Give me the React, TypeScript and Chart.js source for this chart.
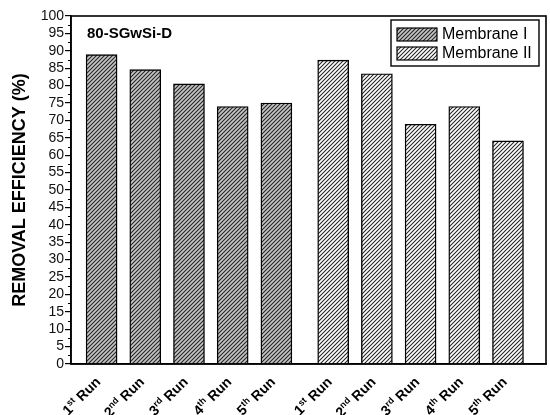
import { useEffect, useRef } from "react";
import { Chart, registerables } from "chart.js";

Chart.register(...registerables);

document.body.style.margin = "0";

const runs = ["1st", "2nd", "3rd", "4th", "5th"];
const membraneIPos = [1, 2, 3, 4, 5];
const membraneIIPos = [6.3, 7.3, 8.3, 9.3, 10.3];
const membraneI = [88.9, 84.6, 80.5, 74.0, 75.0];
const membraneII = [87.3, 83.4, 68.9, 74.0, 64.1];
const seriesNames = ["Membrane I", "Membrane II"];
const sampleName = "80-SGwSi-D";
const yTitle = "REMOVAL EFFICIENCY (%)";

const FONT = "'Liberation Sans', Arial, sans-serif";

function hatch(bg: string) {
  const s = 4;
  const c = document.createElement("canvas");
  c.width = s;
  c.height = s;
  const ctx = c.getContext("2d")!;
  ctx.fillStyle = bg;
  ctx.fillRect(0, 0, s, s);
  ctx.strokeStyle = "#222";
  ctx.lineWidth = 1.05;
  ctx.beginPath();
  ctx.moveTo(0, s);
  ctx.lineTo(s, 0);
  ctx.moveTo(-1, 1);
  ctx.lineTo(1, -1);
  ctx.moveTo(s - 1, s + 1);
  ctx.lineTo(s + 1, s - 1);
  ctx.stroke();
  return ctx.createPattern(c, "repeat")!;
}

const decorations = {
  id: "decorations",
  afterDraw(chart: any) {
    const { ctx, chartArea } = chart;
    const y = chart.scales.y;
    ctx.save();
    ctx.strokeStyle = "#000";

    // minor ticks
    ctx.lineWidth = 1.2;
    ctx.beginPath();
    for (let v = 2.5; v < 100; v += 5) {
      const py = Math.round(y.getPixelForValue(v)) + 0.5;
      ctx.moveTo(chartArea.left - 3, py);
      ctx.lineTo(chartArea.left, py);
    }
    ctx.stroke();

    // frame
    ctx.lineWidth = 1.6;
    ctx.strokeRect(
      chartArea.left,
      chartArea.top,
      chartArea.right - chartArea.left,
      chartArea.bottom - chartArea.top
    );

    // sample name
    ctx.fillStyle = "#000";
    ctx.font = `bold 15px ${FONT}`;
    ctx.textBaseline = "alphabetic";
    ctx.textAlign = "left";
    ctx.fillText(sampleName, chartArea.left + 16, chartArea.top + 22);

    // legend
    const bx = chartArea.right - 155;
    const by = chartArea.top + 4;
    ctx.lineWidth = 1.4;
    ctx.strokeRect(bx, by, 148, 46);
    chart.data.datasets.forEach((ds: any, i: number) => {
      const sy = by + 8 + i * 19;
      ctx.fillStyle = ds.backgroundColor;
      ctx.fillRect(bx + 6, sy, 40, 13);
      ctx.lineWidth = 1.2;
      ctx.strokeRect(bx + 6, sy, 40, 13);
      ctx.fillStyle = "#000";
      ctx.font = `16px ${FONT}`;
      ctx.textBaseline = "middle";
      ctx.fillText(ds.label, bx + 51, sy + 7);
    });

    // rotated run labels with superscript suffix
    chart.data.datasets.forEach((_: any, i: number) => {
      chart.getDatasetMeta(i).data.forEach((bar: any, j: number) => {
        const m = runs[j].match(/^(\d+)(\D+)$/)!;
        ctx.save();
        ctx.translate(bar.x - 3, chartArea.bottom + 16);
        ctx.rotate(-Math.PI / 4);
        ctx.textBaseline = "middle";
        ctx.textAlign = "left";
        ctx.fillStyle = "#000";
        ctx.font = `bold 14px ${FONT}`;
        const wNum = ctx.measureText(m[1]).width;
        const wRun = ctx.measureText(" Run").width;
        ctx.font = `bold 9px ${FONT}`;
        const wSup = ctx.measureText(m[2]).width;
        let x = -(wNum + wSup + wRun);
        ctx.font = `bold 14px ${FONT}`;
        ctx.fillText(m[1], x, 0);
        x += wNum;
        ctx.font = `bold 9px ${FONT}`;
        ctx.fillText(m[2], x, -4);
        x += wSup;
        ctx.font = `bold 14px ${FONT}`;
        ctx.fillText(" Run", x, 0);
        ctx.restore();
      });
    });
    ctx.restore();
  },
};

export default function App() {
  const ref = useRef<HTMLCanvasElement>(null);

  useEffect(() => {
    if (!ref.current) return;
    const chart = new Chart(ref.current, {
      type: "bar",
      data: {
        datasets: [
          {
            label: seriesNames[0],
            data: membraneIPos.map((x, i) => ({ x, y: membraneI[i] })),
            backgroundColor: hatch("#c4c4c4") as any,
            borderColor: "#000",
            borderWidth: 1.4,
            barThickness: 31,
            grouped: false,
          },
          {
            label: seriesNames[1],
            data: membraneIIPos.map((x, i) => ({ x, y: membraneII[i] })),
            backgroundColor: hatch("#ffffff") as any,
            borderColor: "#000",
            borderWidth: 1.4,
            barThickness: 31,
            grouped: false,
          },
        ],
      },
      options: {
        animation: false,
        responsive: true,
        maintainAspectRatio: false,
        layout: { padding: { top: 16, right: 4, left: 0, bottom: 0 } },
        plugins: {
          legend: { display: false },
          tooltip: { enabled: false },
        },
        scales: {
          x: {
            type: "linear",
            min: 0.3,
            max: 11.17,
            offset: false,
            ticks: { display: false },
            grid: { display: false },
            border: { display: true, color: "#000", width: 1.6 },
            afterFit: (s: any) => {
              s.height = 51;
            },
          },
          y: {
            min: 0,
            max: 100,
            ticks: {
              stepSize: 5,
              autoSkip: false,
              color: "#111",
              padding: 1,
              font: { family: FONT, size: 14 },
            },
            grid: {
              drawOnChartArea: false,
              drawTicks: true,
              tickLength: 6,
              color: "#000",
              lineWidth: 1.2,
            },
            border: { display: true, color: "#000", width: 1.6 },
            title: {
              display: true,
              text: yTitle,
              color: "#000",
              padding: { top: 9, bottom: 0 },
              font: { family: FONT, size: 18, weight: "bold" },
            },
            afterFit: (s: any) => {
              s.width = 71;
            },
          },
        },
      },
      plugins: [decorations],
    });
    return () => {
      chart.destroy();
    };
  }, []);

  return (
    <div style={{ position: "relative", width: 550, height: 415 }}>
      <canvas ref={ref}></canvas>
    </div>
  );
}
